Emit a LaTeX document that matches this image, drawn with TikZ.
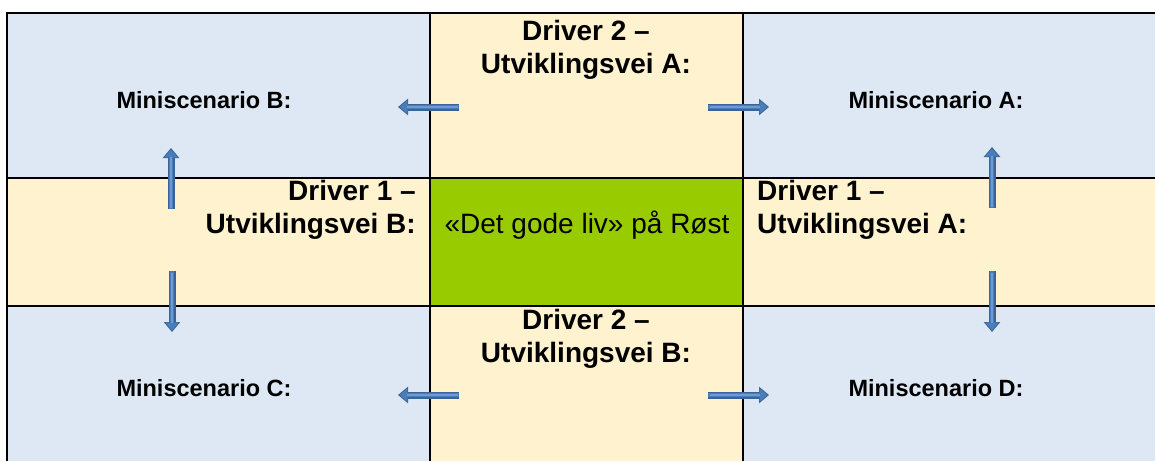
\documentclass[tikz,border=0pt]{standalone}
\usepackage{fontspec}
\setmainfont{Liberation Sans}
\usetikzlibrary{arrows.meta}
\definecolor{cellblue}{HTML}{DDE8F4}
\definecolor{cellbeige}{HTML}{FEF2CF}
\definecolor{cellgreen}{HTML}{99CC00}
\definecolor{arrowfill}{HTML}{4A7EBB}
\definecolor{arrowedge}{HTML}{3A6496}
\definecolor{arrowlight}{HTML}{6B9BD2}
\tikzset{
  grid/.style={line width=2.2pt, black},
  lbl/.style={font=\fontsize{28}{33}\selectfont\bfseries, inner sep=0pt, align=center},
  lbls/.style={font=\fontsize{23.5}{33}\selectfont\bfseries, inner sep=0pt, align=center},
  lblc/.style={font=\fontsize{28}{33}\selectfont, inner sep=0pt, align=center},
  arrowout/.style={line width=7pt, arrowedge, -{Triangle[width=16pt,length=10pt]}},
  arrowin/.style={line width=4.6pt, arrowfill, shorten >=1.6pt, -{Triangle[width=12.6pt,length=7.8pt]}},
  arrowhl/.style={line width=1.2pt, arrowlight, shorten >=9pt, shorten <=1.5pt},
}
\newcommand{\blockarr}[2]{%
  \draw[arrowout] (#1) -- (#2);
  \draw[arrowin] (#1) -- (#2);
  \draw[arrowhl] (#1) -- (#2);
}
\begin{document}
\begin{tikzpicture}[x=1pt,y=-1pt]
\useasboundingbox (0,0) rectangle (1155,461);
% cells
\fill[cellblue] (7,13) rectangle (430,178);
\fill[cellbeige] (430,13) rectangle (743,178);
\fill[cellblue] (743,13) rectangle (1155,178);
\fill[cellbeige] (7,178) rectangle (430,306);
\fill[cellgreen] (430,178) rectangle (743,306);
\fill[cellbeige] (743,178) rectangle (1155,306);
\fill[cellblue] (7,306) rectangle (430,461);
\fill[cellbeige] (430,306) rectangle (743,461);
\fill[cellblue] (743,306) rectangle (1155,461);
% grid lines
\draw[grid] (7,461) -- (7,13) -- (1155,13);
\draw[grid] (430,13) -- (430,461);
\draw[grid] (743,13) -- (743,461);
\draw[grid] (7,178) -- (1155,178);
\draw[grid] (7,306) -- (1155,306);
% texts
\node[lbls] (mB) at (204,100) {Miniscenario B:};
\node[lbls] (mA) at (936,100) {Miniscenario A:};
\node[lbls] (mC) at (204,388) {Miniscenario C:};
\node[lbls] (mD) at (936,388) {Miniscenario D:};
\node[lbl] (d2a) at (586,49.5) {Driver 2 –\\Utviklingsvei A:};
\node[lbl] (d2b) at (586,339) {Driver 2 –\\Utviklingsvei B:};
\node[lbl, align=right, anchor=east] (d1b) at (416,210) {Driver 1 –\\Utviklingsvei B:};
\node[lbl, align=left, anchor=west] (d1a) at (757,210) {Driver 1 –\\Utviklingsvei A:};
\node[lblc] (core) at (587,225) {«Det gode liv» på Røst};
% arrow end points
\coordinate (a1s) at (459,107); \coordinate (a1e) at (398,107);
\coordinate (a2s) at (708,107); \coordinate (a2e) at (769,107);
\coordinate (a3s) at (171,209); \coordinate (a3e) at (171,148);
\coordinate (a4s) at (172,271); \coordinate (a4e) at (172,332);
\coordinate (a5s) at (992,208); \coordinate (a5e) at (992,147);
\coordinate (a6s) at (992,271); \coordinate (a6e) at (992,332);
\coordinate (a7s) at (459,395); \coordinate (a7e) at (398,395);
\coordinate (a8s) at (708,395); \coordinate (a8e) at (769,395);
\blockarr{a1s}{a1e}
\blockarr{a2s}{a2e}
\blockarr{a3s}{a3e}
\blockarr{a4s}{a4e}
\blockarr{a5s}{a5e}
\blockarr{a6s}{a6e}
\blockarr{a7s}{a7e}
\blockarr{a8s}{a8e}
\end{tikzpicture}
\end{document}
